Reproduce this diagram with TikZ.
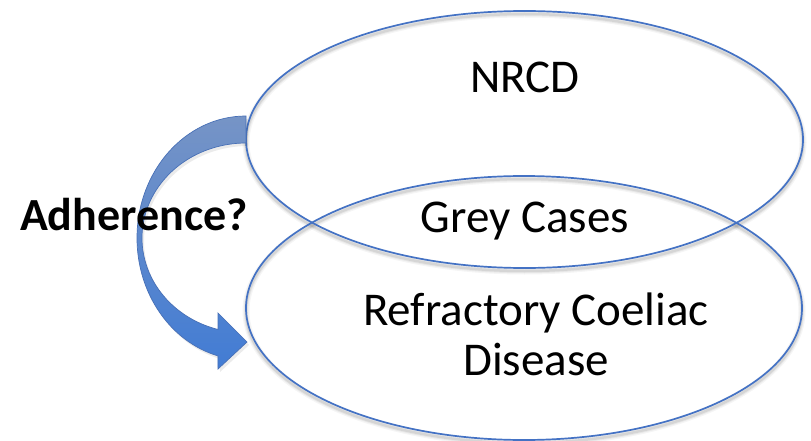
\documentclass[tikz,border=0pt]{standalone}
\usepackage{fontspec}
\setmainfont{Carlito}
\usetikzlibrary{shapes.geometric}
\definecolor{ringblue}{RGB}{68,114,196}
\definecolor{arrowtop}{RGB}{118,148,198}
\definecolor{arrowbot}{RGB}{66,124,212}
\definecolor{arrowedge}{RGB}{72,112,182}
\tikzset{
  ring/.style={ellipse, draw=ringblue, line width=1.7pt, inner sep=0pt},
  ringshadow/.style={ellipse, draw=black, inner sep=0pt},
  label/.style={font=\fontsize{47}{50}\selectfont, inner sep=0pt, anchor=base, align=center},
}
\begin{document}
\begin{tikzpicture}[x=1pt, y=-1pt]
  \fill[white] (0,0) rectangle (811,441);
  \useasboundingbox (0,0) rectangle (811,441);

  % soft shadows under the two rings
  \foreach \w/\o in {7/0.04, 4.5/0.05, 2.5/0.08} {
    \node[ringshadow, draw opacity=\o, line width=\w pt, minimum width=557pt, minimum height=257pt] at (524.5,142.5) {};
    \node[ringshadow, draw opacity=\o, line width=\w pt, minimum width=556pt, minimum height=264pt] at (524,311) {};
  }

  % the two overlapping rings
  \node[ring, minimum width=557pt, minimum height=257pt] (nrcd) at (524.5,139.5) {};
  \node[ring, minimum width=556pt, minimum height=264pt] (rcd) at (524,308) {};

  % curved arrow from the upper ring down to the lower ring
  \coordinate (tailtop) at (246,116);
  \coordinate (tailbot) at (246,143);
  \coordinate (tip) at (247,342);
  \fill[black, opacity=0.08]
    ([shift={(2,3)}]tailtop) arc[start angle=-90, end angle=-255.1, x radius=109, y radius=122]
    -- (220,372) -- (249,345) -- (220,316) -- (220,332.5)
    arc[start angle=-254.38, end angle=-90, x radius=104, y radius=95] -- cycle;
  \path[draw=arrowedge, line width=0.7pt, top color=arrowtop, bottom color=arrowbot]
    (tailtop) arc[start angle=-90, end angle=-255.1, x radius=109, y radius=122]
    -- (218,369) -- (tip) -- (218,313) -- (218,329.5)
    arc[start angle=-254.38, end angle=-90, x radius=104, y radius=95]
    -- (tailbot) -- cycle;

  % texts
  \node[label] (t1) at (525,93) {NRCD};
  \node[label] (t2) at (525,232) {Grey Cases};
  \node[label] (t3) at (536,325) {Refractory Coeliac};
  \node[label] (t3b) at (536,375) {Disease};
  \node[label, font=\fontsize{46}{50}\selectfont\bfseries] (t4) at (134,230) {Adherence?};
\end{tikzpicture}
\end{document}
